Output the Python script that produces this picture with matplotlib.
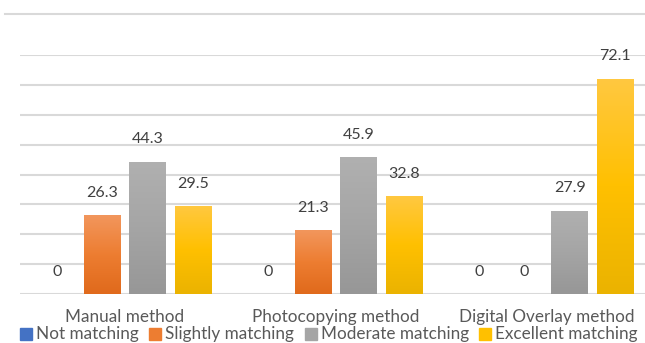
import numpy as np
import matplotlib.pyplot as plt
import matplotlib.colors as mcolors
from matplotlib.lines import Line2D

plt.rcParams['font.family'] = ['Lato', 'DejaVu Sans']

methods = ['Manual method', 'Photocopying method', 'Digital Overlay method']
series = ['Not matching', 'Slightly matching', 'Moderate matching', 'Excellent matching']
not_matching = [0, 0, 0]
slightly_matching = [26.3, 21.3, 0]
moderate_matching = [44.3, 45.9, 27.9]
excellent_matching = [29.5, 32.8, 72.1]

values = [not_matching, slightly_matching, moderate_matching, excellent_matching]
base_colors = ['#4472c4', '#ed7d31', '#a5a5a5', '#ffc000']
# (top, middle, bottom) shades for the Excel-like gradient fill
gradients = [
    ('#6a8fd6', '#4472c4', '#3a64b0'),
    ('#f2965c', '#ed7d31', '#e06a1c'),
    ('#b0b0b0', '#a5a5a5', '#979797'),
    ('#ffc840', '#ffc000', '#ebb300'),
]

fig = plt.figure(figsize=(6.45, 3.43), dpi=100)
W, H = 645, 343
ax = fig.add_axes([19.5 / W, (H - 294) / H, 633 / W, 239 / H])

x = np.arange(len(methods))
step = 0.2157
width = 0.175
offsets = (np.arange(4) - 1.5) * step

for i, (vals, col, grad) in enumerate(zip(values, base_colors, gradients)):
    bars = ax.bar(x + offsets[i], vals, width, color=col, zorder=3, label=series[i])
    cmap = mcolors.LinearSegmentedColormap.from_list('g%d' % i, list(grad)[::-1])
    for b, v in zip(bars, vals):
        if v > 0:
            gx = b.get_x()
            img = ax.imshow(np.linspace(0, 1, 64).reshape(-1, 1), cmap=cmap,
                            extent=[gx, gx + b.get_width(), 0, v], origin='lower',
                            aspect='auto', zorder=3.5, interpolation='bicubic')
            img.set_clip_path(b)
        ax.annotate(f'{v:g}', (b.get_x() + b.get_width() / 2, v),
                    xytext=(0, 11), textcoords='offset points',
                    ha='center', va='bottom', fontsize=11.5, color='#404040', zorder=5)

ax.set_xlim(-0.5, 2.5)
ax.set_ylim(0, 80)
ax.set_yticks(np.arange(0, 81, 10))
ax.yaxis.grid(True, color='#d9d9d9', linewidth=1.5, zorder=0)
ax.tick_params(axis='y', length=0, labelleft=False)
ax.set_xticks(x)
ax.set_xticklabels(methods, fontsize=12.3, color='#595959')
ax.tick_params(axis='x', length=0, pad=10.5)
for s in ax.spines.values():
    s.set_visible(False)

fig.add_artist(Line2D([5 / W, 1], [(H - 14) / H] * 2, color='#d9d9d9', linewidth=1.5))

handles = [plt.Rectangle((0, 0), 1, 1, color=c) for c in base_colors]
fig.legend(handles, series, loc='center', bbox_to_anchor=(329 / W, (H - 334.5) / H),
           ncol=4, frameon=False, fontsize=12.3, handlelength=0.7, handleheight=0.7,
           handletextpad=0.25, columnspacing=0.6, labelcolor='#595959', borderpad=0)

fig.savefig('out.png', dpi=100)
